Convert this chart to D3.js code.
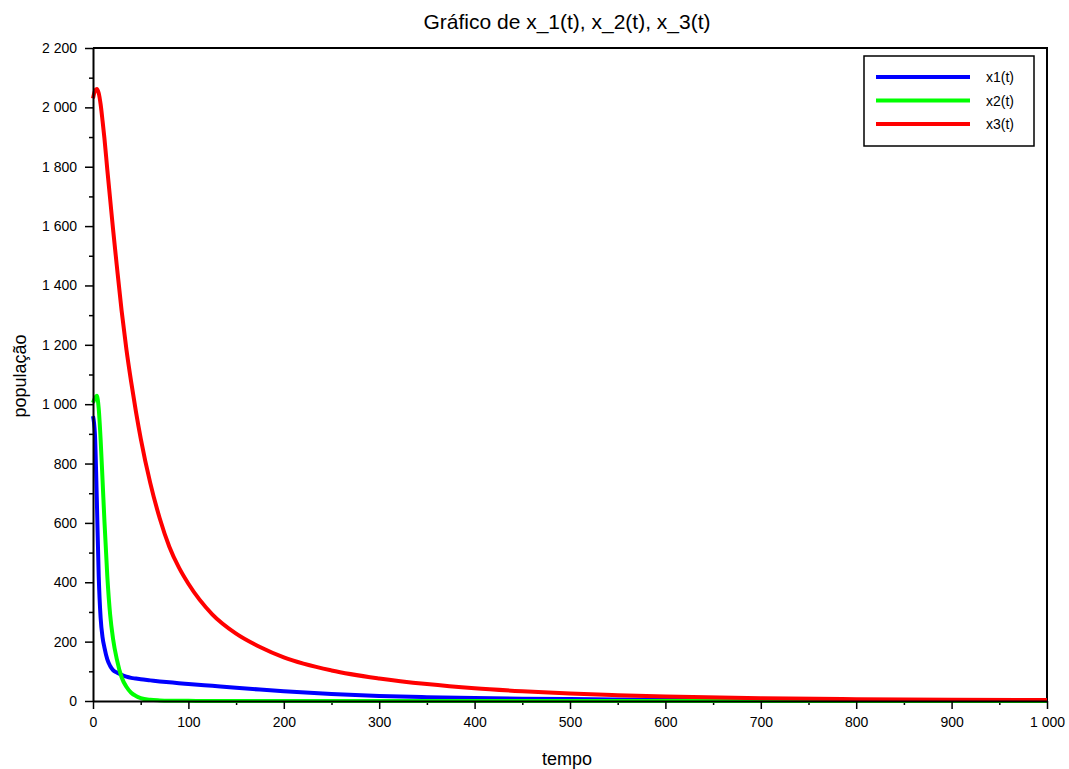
<!DOCTYPE html>
<html>
<head>
<meta charset="utf-8">
<script src="https://cdn.jsdelivr.net/npm/d3@7"></script>
<style>
  body { margin: 0; background: #fff; }
  text { font-family: "Liberation Sans", Arial, sans-serif; }
</style>
</head>
<body>
<div id="chart"></div>
<script>
'use strict';
// values
const tempo = [0, 2, 4, 6, 8, 10, 12, 15, 18, 21, 25, 30, 35, 40, 45, 50, 60, 70, 80, 90, 100, 125, 150, 175, 200, 250, 300, 350, 400, 450, 500, 550, 600, 700, 800, 900, 1000];
const x1 = [960, 900, 680, 420, 280, 215, 180, 140, 118, 104, 96, 88, 82, 78, 75.5, 73, 69.5, 66, 63, 60, 57.5, 51, 44.5, 38.5, 33, 23.5, 17, 13, 10, 8, 6.5, 5.3, 4.3, 3, 2, 1.5, 1];
const x2 = [1005, 1020, 1028, 985, 880, 745, 605, 420, 290, 210, 140, 80, 48, 28, 17, 10, 4, 2, 1, 0.7, 0.5, 0, 0, 0, 0, 0, 0, 0, 0, 0, 0, 0, 0, 0, 0, 0, 0];
const x3 = [2030, 2055, 2062, 2048, 2010, 1955, 1895, 1790, 1690, 1590, 1465, 1315, 1185, 1075, 975, 885, 735, 615, 520, 450, 395, 292, 227, 182, 147, 103, 76, 57, 43, 33, 25, 19.5, 15, 9, 6, 4, 3];

const seriesNames = ['x1(t)', 'x2(t)', 'x3(t)'];
const seriesColors = ['#0000ff', '#00ff00', '#ff0000'];
const seriesValues = [x1, x2, x3];

const xTicks = [0, 100, 200, 300, 400, 500, 600, 700, 800, 900, 1000];
const yTicks = [0, 200, 400, 600, 800, 1000, 1200, 1400, 1600, 1800, 2000, 2200];

const width = 1069, height = 769;
const margin = {top: 48, right: 22, bottom: 68, left: 93};

const svg = d3.select('#chart').append('svg')
  .attr('width', width)
  .attr('height', height);

const xScale = d3.scaleLinear()
  .domain([0, 1000])
  .range([margin.left, width - margin.right]);

const yScale = d3.scaleLinear()
  .domain([0, 2200])
  .range([height - margin.bottom, margin.top]);

// number format with space as thousands separator
const fmt = d => d3.format(',')(d).replace(/,/g, ' ');

// minor ticks
svg.append('g')
  .attr('transform', `translate(0,${yScale(0)})`)
  .call(d3.axisBottom(xScale).tickValues(d3.range(50, 1000, 100)).tickSize(4).tickFormat(''))
  .call(g => g.select('.domain').remove())
  .selectAll('line').attr('stroke-width', 1.5);

svg.append('g')
  .attr('transform', `translate(${xScale(0)},0)`)
  .call(d3.axisLeft(yScale).tickValues(d3.range(100, 2200, 200)).tickSize(4).tickFormat(''))
  .call(g => g.select('.domain').remove())
  .selectAll('line').attr('stroke-width', 1.5);

// frame top and right
svg.append('path')
  .attr('d', `M${xScale(0)},${yScale(2200)}H${xScale(1000)}V${yScale(0)}`)
  .attr('fill', 'none')
  .attr('stroke', '#000')
  .attr('stroke-width', 2);

// curves
const line = d3.line()
  .x((d, i) => xScale(tempo[i]))
  .y(d => yScale(d))
  .curve(d3.curveMonotoneX);

seriesValues.forEach((vals, k) => {
  svg.append('path')
    .datum(vals)
    .attr('d', line)
    .attr('fill', 'none')
    .attr('stroke', seriesColors[k])
    .attr('stroke-width', 4)
    .attr('stroke-linejoin', 'round');
});

// major axes
const xAxis = svg.append('g')
  .attr('transform', `translate(0,${yScale(0)})`)
  .call(d3.axisBottom(xScale).tickValues(xTicks).tickSize(8).tickPadding(8).tickSizeOuter(0).tickFormat(fmt));

const yAxis = svg.append('g')
  .attr('transform', `translate(${xScale(0)},0)`)
  .call(d3.axisLeft(yScale).tickValues(yTicks).tickSize(8).tickPadding(8).tickSizeOuter(0).tickFormat(fmt));

[xAxis, yAxis].forEach(g => {
  g.select('.domain').attr('stroke-width', 2);
  g.selectAll('line').attr('stroke-width', 1.5);
  g.selectAll('text')
    .attr('font-size', 14)
    .attr('font-family', '"Liberation Sans", Arial, sans-serif')
    .attr('fill', '#000');
});

// title and axis labels
svg.append('text')
  .attr('x', 567)
  .attr('y', 29)
  .attr('text-anchor', 'middle')
  .attr('font-size', 21)
  .text('Gráfico de x_1(t), x_2(t), x_3(t)');

svg.append('text')
  .attr('x', 567)
  .attr('y', 765)
  .attr('text-anchor', 'middle')
  .attr('font-size', 18)
  .text('tempo');

svg.append('text')
  .attr('transform', 'translate(26,376) rotate(-90)')
  .attr('text-anchor', 'middle')
  .attr('font-size', 18)
  .text('população');

// legend
const legend = svg.append('g').attr('transform', 'translate(864,56)');
legend.append('rect')
  .attr('width', 170)
  .attr('height', 90)
  .attr('fill', '#fff')
  .attr('stroke', '#000')
  .attr('stroke-width', 1.5);

seriesNames.forEach((name, k) => {
  const y = 21 + k * 23.5;
  legend.append('line')
    .attr('x1', 12).attr('x2', 106)
    .attr('y1', y).attr('y2', y)
    .attr('stroke', seriesColors[k])
    .attr('stroke-width', 4);
  legend.append('text')
    .attr('x', 122)
    .attr('y', y + 5)
    .attr('font-size', 14)
    .text(name);
});
</script>
</body>
</html>
